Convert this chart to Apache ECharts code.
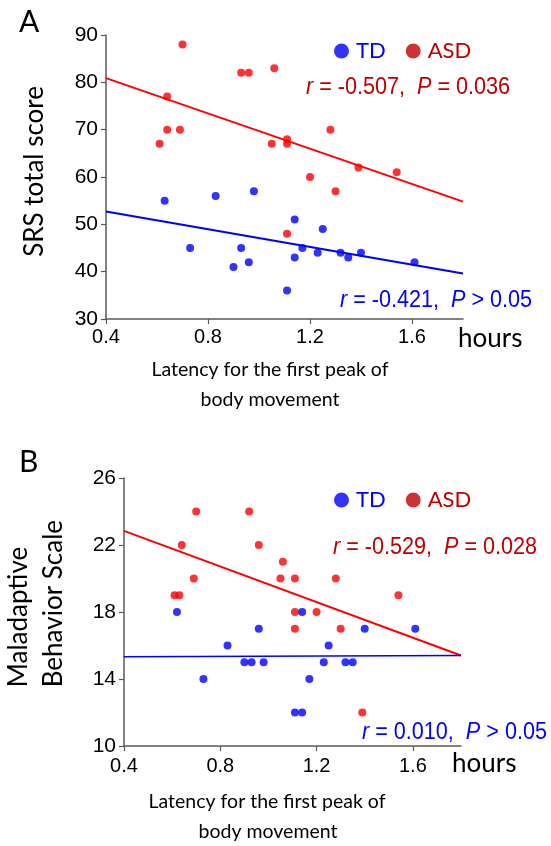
<!DOCTYPE html>
<html>
<head>
<meta charset="utf-8">
<script src="https://cdn.jsdelivr.net/npm/echarts@6/dist/echarts.min.js"></script>
<style>
html,body{margin:0;padding:0;background:#fff;}
#c{width:551px;height:846px;}
</style>
</head>
<body>
<div id="c"></div>
<script>
// ---------- Data ----------
const xTicks = [0.4, 0.8, 1.2, 1.6];
const yTicksA = [30, 40, 50, 60, 70, 80, 90];
const yTicksB = [10, 14, 18, 22, 26];

// Panel A: SRS total score
const asdA = [[0.61,67],[0.64,77],[0.64,70],[0.69,70],[0.70,88],[0.93,82],[0.96,82],[1.05,67],[1.06,83],
  [1.11,68],[1.11,67],[1.11,48],[1.20,60],[1.28,70],[1.30,57],[1.39,62],[1.54,61]];
const tdA = [[0.63,55],[0.73,45],[0.83,56],[0.90,41],[0.93,45],[0.96,42],[0.98,57],[1.11,36],
  [1.14,51],[1.14,43],[1.17,45],[1.23,44],[1.25,49],[1.32,44],[1.35,43],[1.40,44],[1.61,42]];
const asdFitA = [[0.4,80.9],[1.8,54.8]];
const tdFitA = [[0.4,52.7],[1.8,39.6]];

// Panel B: Maladaptive Behavior Scale
const asdB = [[0.61,19],[0.63,19],[0.64,22],[0.69,20],[0.70,24],[0.92,24],[0.96,22],[1.05,20],[1.06,21],
  [1.11,20],[1.11,18],[1.11,17],[1.20,18],[1.28,20],[1.30,17],[1.39,12],[1.54,19]];
const tdB = [[0.62,18],[0.73,14],[0.83,16],[0.90,15],[0.93,15],[0.96,17],[0.98,15],[1.11,12],[1.14,12],
  [1.14,18],[1.17,14],[1.23,15],[1.25,16],[1.32,15],[1.35,15],[1.40,17],[1.61,17]];
const asdFitB = [[0.4,22.84],[1.8,15.4]];
const tdFitB = [[0.4,15.33],[1.8,15.4]];

const statsA = {asd: ['-0.507', '= 0.036'], td: ['-0.421', '> 0.05']};
const statsB = {asd: ['-0.529', '= 0.028'], td: ['0.010', '> 0.05']};

// ---------- Styles ----------
const RED = '#ff0000', BLUE = '#0000ff', DRED = '#c00000';
const AXC = '#5a5a5a';
const TICKFONT = "'Liberation Sans Narrow','Liberation Sans',sans-serif";
const TITLEFONT = "Lato,'Open Sans','Noto Sans',sans-serif";

function xAxis(gi, margin) {
  return {
    type: 'value', gridIndex: gi, min: 0.4, max: 1.8, interval: 0.4,
    axisLine: {show: true, lineStyle: {color: AXC, width: 1.5}},
    axisTick: {show: true, length: 5, lineStyle: {color: AXC, width: 1.2}},
    splitLine: {show: false},
    axisLabel: {color: '#000', fontFamily: TICKFONT, fontSize: 20, margin: margin,
      showMaxLabel: false,
      formatter: v => xTicks.some(t => Math.abs(t - v) < 1e-6) ? v.toFixed(1) : ''}
  };
}
function yAxis(gi, min, max, interval) {
  return {
    type: 'value', gridIndex: gi, min: min, max: max, interval: interval,
    axisLine: {show: true, lineStyle: {color: AXC, width: 1.5}},
    axisTick: {show: true, length: 5, lineStyle: {color: AXC, width: 1.2}},
    splitLine: {show: false},
    axisLabel: {color: '#000', fontFamily: TICKFONT, fontSize: 21, margin: 8}
  };
}
function scatter(name, data, color, xi) {
  return {name: name, type: 'scatter', xAxisIndex: xi, yAxisIndex: xi, data: data,
    symbol: 'circle', symbolSize: 8, itemStyle: {color: color}, z: 3};
}
function fit(data, color, xi, w) {
  return {type: 'line', xAxisIndex: xi, yAxisIndex: xi, data: data, symbol: 'none',
    lineStyle: {color: color, width: w}, z: 2, silent: true};
}
function statText(x, y, color, rv, pv) {
  return {type: 'text', x: x, y: y, scaleX: 0.9, style: {
    text: '{i|r} = ' + rv + ',  {i|P} ' + pv,
    fill: color, fontFamily: 'Liberation Sans', fontSize: 24,
    rich: {i: {fontStyle: 'italic', fontFamily: 'Liberation Sans', fontSize: 24, fill: color}}
  }};
}
function legend(top) {
  return {
    top: top, left: 329, orient: 'horizontal', icon: 'circle', itemWidth: 15, itemHeight: 15,
    itemGap: 20, selectedMode: false,
    textStyle: {fontFamily: TITLEFONT, fontSize: 22, padding: [0, 0, 0, 2]},
    data: [
      {name: 'TD', itemStyle: {color: BLUE}, textStyle: {color: BLUE}},
      {name: 'ASD', itemStyle: {color: DRED}, textStyle: {color: DRED}}
    ]
  };
}
function centerText(cx, y, txt, size) {
  return {type: 'text', x: cx, y: y, style: {text: txt, fill: '#000', fontFamily: TITLEFONT, fontSize: size, align: 'center'}};
}

const chart = echarts.init(document.getElementById('c'), null, {renderer: 'canvas'});
chart.setOption({
  animation: false,
  backgroundColor: '#fff',
  grid: [
    {left: 106, top: 35, width: 357, height: 284},
    {left: 124, top: 478, width: 337, height: 268}
  ],
  xAxis: [xAxis(0, 8), xAxis(1, 10)],
  yAxis: [yAxis(0, 30, 90, 10), yAxis(1, 10, 26, 4)],
  legend: [legend(35), legend(484)],
  series: [
    fit(asdFitA, RED, 0, 2), fit(tdFitA, BLUE, 0, 2),
    scatter('ASD', asdA, RED, 0), scatter('TD', tdA, BLUE, 0),
    fit(asdFitB, RED, 1, 2), fit(tdFitB, BLUE, 1, 1.6),
    scatter('ASD', asdB, RED, 1), scatter('TD', tdB, BLUE, 1)
  ],
  graphic: [
    {type: 'text', left: 19, top: 7, style: {text: 'A', fill: '#000', font: "30px " + TITLEFONT}},
    {type: 'text', left: 19, top: 447, style: {text: 'B', fill: '#000', font: "30px " + TITLEFONT}},
    {type: 'text', left: 22, top: 86, rotation: Math.PI / 2, style: {text: 'SRS total score', fill: '#000', font: "26px " + TITLEFONT}},
    {type: 'text', left: 1, top: 520, rotation: Math.PI / 2, style: {text: 'Maladaptive\nBehavior Scale', fill: '#000', font: "26px " + TITLEFONT, align: 'center', lineHeight: 35}},
    statText(306, 75, DRED, statsA.asd[0], statsA.asd[1]),
    statText(340, 288, BLUE, statsA.td[0], statsA.td[1]),
    statText(333, 535, DRED, statsB.asd[0], statsB.asd[1]),
    statText(362, 720, BLUE, statsB.td[0], statsB.td[1]),
    {type: 'text', left: 458, top: 326, style: {text: 'hours', fill: '#000', font: "26px " + TITLEFONT}},
    {type: 'text', left: 452, top: 751, style: {text: 'hours', fill: '#000', font: "26px " + TITLEFONT}},
    centerText(270, 360, 'Latency for the first peak of', 19.5),
    centerText(270, 390, 'body movement', 19.5),
    centerText(267, 792, 'Latency for the first peak of', 19.5),
    centerText(268, 822, 'body movement', 19.5)
  ]
});
</script>
</body>
</html>
